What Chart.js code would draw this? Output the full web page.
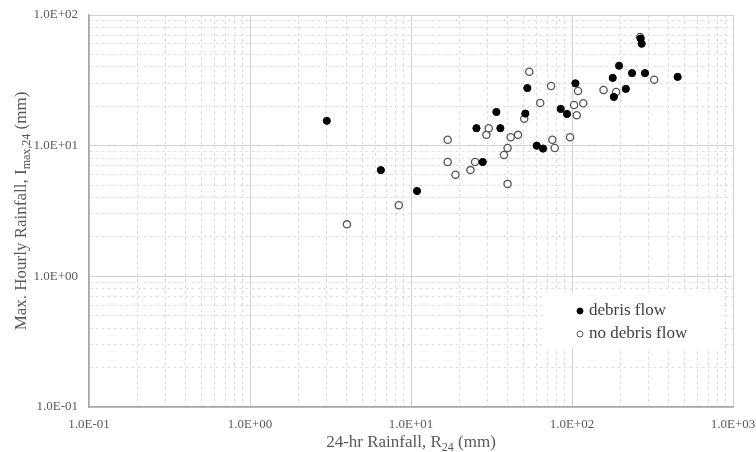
<!DOCTYPE html>
<html>
<head>
<meta charset="utf-8">
<script src="https://cdn.jsdelivr.net/npm/chart.js@4/dist/chart.umd.min.js"></script>
<style>
  html, body { margin:0; padding:0; background:#fff; }
  #wrap { width:756px; height:452px; position:relative; }
</style>
</head>
<body>
<div id="wrap"><canvas id="c"></canvas></div>
<script>
'use strict';

// ── Data ────────────────────────────────────────────────────────────────────
const debrisR24 = [3.0, 6.5, 10.9, 25.5, 27.9, 33.9, 35.9, 51.3, 52.8, 60.4, 66.1, 85.1, 93.1, 105, 179, 182, 196, 216, 236, 284, 453, 271, 267];
const debrisImax = [15.5, 6.5, 4.5, 13.6, 7.5, 18.1, 13.6, 17.6, 27.6, 10.0, 9.5, 19.1, 17.5, 30.0, 33.0, 23.6, 40.9, 27.2, 35.9, 35.9, 33.6, 60.3, 66];

const noDebrisR24 = [4.0, 8.4, 16.9, 16.9, 18.9, 23.4, 25.0, 29.4, 30.4, 37.8, 39.8, 39.8, 41.6, 46.2, 50.5, 54.3, 63.5, 74.1, 75.5, 78.1, 97.2, 103, 107, 109, 117.5, 157, 188, 324, 265];
const noDebrisImax = [2.5, 3.5, 11.1, 7.5, 6.0, 6.5, 7.5, 12.1, 13.6, 8.5, 9.6, 5.1, 11.6, 12.1, 16.1, 36.8, 21.2, 28.6, 11.1, 9.6, 11.6, 20.5, 17.1, 26.2, 21.1, 26.7, 25.8, 32.0, 67.9];

const xMajor = [0.1, 1, 10, 100, 1000];
const xTickLabels = ['1.0E-01', '1.0E+00', '1.0E+01', '1.0E+02', '1.0E+03'];
const yMajor = [0.1, 1, 10, 100];
const yTickLabels = ['1.0E-01', '1.0E+00', '1.0E+01', '1.0E+02'];

const seriesNames = ['debris flow', 'no debris flow'];

// ── Helpers ─────────────────────────────────────────────────────────────────
const FONT = "'Liberation Serif', 'Times New Roman', serif";
const TXT = '#595959';

function logTicks(majors) {
  const out = [];
  for (let i = 0; i < majors.length - 1; i++) {
    for (let m = 1; m <= 9; m++) out.push({ value: +(majors[i] * m).toPrecision(6) });
  }
  out.push({ value: majors[majors.length - 1] });
  return out;
}
function isMajor(v, majors) { return majors.some(m => Math.abs(v - m) / m < 1e-6); }
function labelFor(v, majors, labels) {
  const i = majors.findIndex(m => Math.abs(v - m) / m < 1e-6);
  return i >= 0 ? labels[i] : '';
}
function pts(xs, ys) { return xs.map((x, i) => ({ x, y: ys[i] })); }

function gridOpts(majors) {
  return {
    color: c => (c.tick && isMajor(c.tick.value, majors)) ? '#d2d2d2' : '#dedede',
    lineWidth: 1,
    drawTicks: false
  };
}
function borderOpts(majors) {
  return {
    display: true, color: '#a6a6a6', width: 1.5,
    dash: c => (c.tick && !isMajor(c.tick.value, majors)) ? [3, 3] : []
  };
}
function noOverflow(s) {
  s.paddingLeft = 0; s.paddingRight = 0; s.paddingTop = 0; s.paddingBottom = 0;
}

// ── Axis titles with subscripts + legend box ────────────────────────────────
function drawSubText(ctx, parts, x, y, align) {
  // parts: [text, isSub]
  const big = '17px ' + FONT, small = '12px ' + FONT;
  let total = 0;
  parts.forEach(p => { ctx.font = p[1] ? small : big; total += ctx.measureText(p[0]).width; });
  let cx = align === 'center' ? x - total / 2 : x;
  parts.forEach(p => {
    ctx.font = p[1] ? small : big;
    ctx.fillText(p[0], cx, p[1] ? y + 4 : y);
    cx += ctx.measureText(p[0]).width;
  });
}

const decorPlugin = {
  id: 'decor',
  afterDatasetsDraw(chart) {
    const { ctx, chartArea: a } = chart;
    ctx.save();
    // legend box
    const lx = 543, ly = 292, lw = 178, lh = 56;
    ctx.fillStyle = '#fff';
    ctx.fillRect(lx, ly, lw, lh);
    ctx.textBaseline = 'middle';
    ctx.textAlign = 'left';
    ctx.font = '17px ' + FONT;
    chart.data.datasets.forEach((ds, i) => {
      const yy = 311 + i * 23;
      ctx.beginPath();
      ctx.arc(580, yy, 3, 0, Math.PI * 2);
      ctx.fillStyle = ds.backgroundColor;
      ctx.fill();
      ctx.lineWidth = 1;
      ctx.strokeStyle = ds.borderColor;
      ctx.stroke();
      ctx.fillStyle = '#404040';
      ctx.fillText(ds.label, 589, yy);
    });
    // axis titles
    ctx.fillStyle = TXT;
    ctx.textBaseline = 'alphabetic';
    drawSubText(ctx, [['24-hr Rainfall, R', false], ['24', true], [' (mm)', false]], (a.left + a.right) / 2, 447, 'center');
    ctx.translate(26, (a.top + a.bottom) / 2);
    ctx.rotate(-Math.PI / 2);
    drawSubText(ctx, [['Max. Hourly Rainfall, I', false], ['max,24', true], [' (mm)', false]], 0, 0, 'center');
    ctx.restore();
  }
};

// ── Chart ───────────────────────────────────────────────────────────────────
new Chart(document.getElementById('c'), {
  type: 'scatter',
  data: {
    datasets: [
      { label: seriesNames[0], data: pts(debrisR24, debrisImax), backgroundColor: '#000', borderColor: '#000', pointRadius: 3.6, borderWidth: 1 },
      { label: seriesNames[1], data: pts(noDebrisR24, noDebrisImax), backgroundColor: '#fff', borderColor: '#555', pointRadius: 3.6, borderWidth: 1.3 }
    ]
  },
  options: {
    responsive: true, maintainAspectRatio: false, animation: false,
    layout: { padding: { left: 0, right: 23, top: 15, bottom: 0 } },
    plugins: { legend: { display: false }, tooltip: { enabled: false } },
    scales: {
      x: {
        type: 'logarithmic', min: xMajor[0], max: xMajor[xMajor.length - 1],
        afterBuildTicks: s => { s.ticks = logTicks(xMajor); },
        afterFit: s => { s.height = 45; noOverflow(s); },
        ticks: { autoSkip: false, maxRotation: 0, padding: 10, color: TXT, font: { family: FONT, size: 13 },
          callback: v => labelFor(v, xMajor, xTickLabels) },
        grid: gridOpts(xMajor), border: borderOpts(xMajor)
      },
      y: {
        type: 'logarithmic', min: yMajor[0], max: yMajor[yMajor.length - 1],
        afterBuildTicks: s => { s.ticks = logTicks(yMajor); },
        afterFit: s => { s.width = 89; noOverflow(s); },
        ticks: { autoSkip: false, padding: 11, color: TXT, font: { family: FONT, size: 13 },
          callback: v => labelFor(v, yMajor, yTickLabels) },
        grid: gridOpts(yMajor), border: borderOpts(yMajor)
      }
    }
  },
  plugins: [decorPlugin]
});
</script>
</body>
</html>
